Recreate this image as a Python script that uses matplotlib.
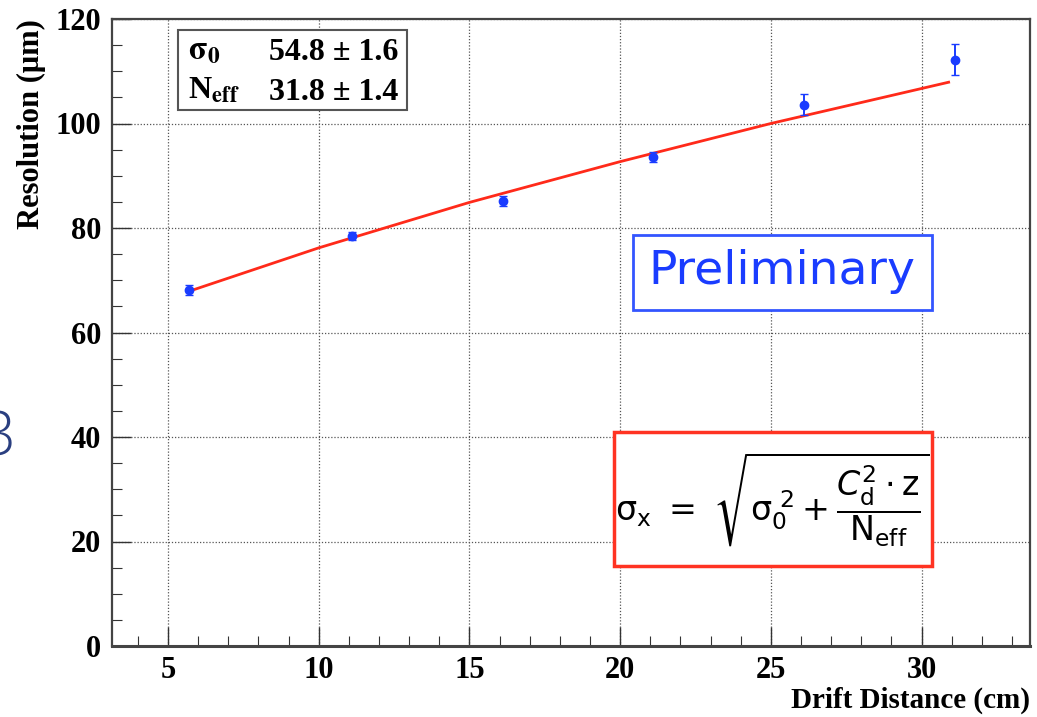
import matplotlib
matplotlib.use("Agg")
import matplotlib.pyplot as plt
from matplotlib.ticker import MultipleLocator
from matplotlib.patches import Rectangle

# data
drift_cm = [5.7, 11.1, 16.1, 21.1, 26.1, 31.1]
resolution_um = [68.1, 78.5, 85.2, 93.6, 103.6, 112.2]
resolution_err = [1.0, 0.8, 0.9, 0.9, 2.0, 3.0]
fit_x = [5.7, 10, 15, 20, 25, 30.9]
fit_y = [67.9, 76.2, 84.9, 92.7, 100.0, 107.9]
x_ticks = [5, 10, 15, 20, 25, 30]
y_ticks = [0, 20, 40, 60, 80, 100, 120]

W, H = 1037, 717
fig = plt.figure(figsize=(W / 100, H / 100), dpi=100)
ax = fig.add_axes([112 / W, 1 - 646 / H, (1030 - 112) / W, (646 - 19) / H])

serif = "Liberation Serif"

ax.set_xlim(3.14, 33.6)
ax.set_ylim(0, 120)
ax.set_xticks(x_ticks)
ax.set_yticks(y_ticks)
ax.xaxis.set_minor_locator(MultipleLocator(1))
ax.yaxis.set_minor_locator(MultipleLocator(5))
ax.tick_params(which="both", direction="in", top=False, right=False, colors="#333333")
ax.tick_params(which="major", length=14, width=1.0)
ax.tick_params(which="minor", length=7, width=0.8)
ax.tick_params(axis="x", pad=7)
ax.tick_params(axis="y", pad=8)
for lab in ax.get_xticklabels() + ax.get_yticklabels():
    lab.set_fontfamily(serif)
    lab.set_fontweight("bold")
    lab.set_fontsize(22)
    lab.set_color("black")

ax.grid(True, which="major", linestyle=(0, (1, 1.5)), color="#555555", linewidth=0.9)
ax.set_axisbelow(True)
for s in ax.spines.values():
    s.set_color("#444444")
    s.set_linewidth(1.6)
ax.spines["bottom"].set_linewidth(2.2)

ax.plot(fit_x, fit_y, color="#ff2a1a", linewidth=2.0, zorder=3)
ax.errorbar(drift_cm, resolution_um, yerr=resolution_err, fmt="o", color="#1a3cff",
            markersize=6, capsize=3, elinewidth=1.4, capthick=1.0, zorder=4)

ax.set_xlabel("Drift Distance (cm)", fontfamily=serif, fontweight="bold", fontsize=21)
ax.xaxis.set_label_coords(1.0, -0.098)
ax.xaxis.label.set_horizontalalignment("right")
ax.xaxis.label.set_verticalalignment("baseline")
ax.set_ylabel("Resolution (μm)", fontfamily=serif, fontweight="bold", fontsize=22)
ax.yaxis.set_label_coords(-0.072, 1.0)
ax.yaxis.label.set_horizontalalignment("right")

def fx(px):
    return px / W

def fy(py):
    return 1 - py / H

# stats box
fig.patches.append(Rectangle((fx(178), fy(110)), (407 - 178) / W, (110 - 30) / H,
                             transform=fig.transFigure, fill=True, facecolor="white",
                             edgecolor="#555555", linewidth=1.5, zorder=5))
fig.text(fx(188), fy(50), r"$\mathbf{\sigma_0}$", fontsize=24, va="center", ha="left", zorder=6,
         math_fontfamily="stix")
fig.text(fx(188), fy(91), r"N$_{\mathrm{\mathbf{eff}}}$", fontsize=23, va="center", ha="left",
         fontfamily=serif, fontweight="bold", zorder=6, math_fontfamily="stix")
fig.text(fx(398), fy(52), "54.8 ± 1.6", fontsize=23, va="center", ha="right",
         fontfamily=serif, fontweight="bold", zorder=6)
fig.text(fx(398), fy(93), "31.8 ± 1.4", fontsize=23, va="center", ha="right",
         fontfamily=serif, fontweight="bold", zorder=6)

# Preliminary box
fig.patches.append(Rectangle((fx(633), fy(310)), (932 - 633) / W, (310 - 235) / H,
                             transform=fig.transFigure, fill=True, facecolor="white",
                             edgecolor="#3355ff", linewidth=2.0, zorder=5))
fig.text(fx(782), fy(272), "Preliminary", fontsize=34, color="#1a3cff", ha="center",
         va="center", fontfamily="DejaVu Sans", zorder=6)

# formula box
fig.patches.append(Rectangle((fx(614), fy(566)), (932 - 614) / W, (566 - 432) / H,
                             transform=fig.transFigure, fill=True, facecolor="white",
                             edgecolor="#ff3322", linewidth=2.5, zorder=5))
fig.text(fx(772), fy(499),
         r"$\mathrm{σ}_{\mathrm{x}}\ =\ \sqrt{\mathrm{σ}_{0}^{\ 2} + \dfrac{C_{\mathrm{d}}^{2}\cdot \mathrm{z}}{\mathrm{N}_{\mathrm{eff}}}}$",
         fontsize=24, ha="center", va="center", zorder=6, math_fontfamily="dejavusans")

# partial slide digit on the left edge
fig.text(fx(15), fy(440), "3", fontsize=44, color="#2a3f80", ha="right", va="center",
         fontfamily="Open Sans", fontweight="light")

fig.savefig("out.png", dpi=100)
